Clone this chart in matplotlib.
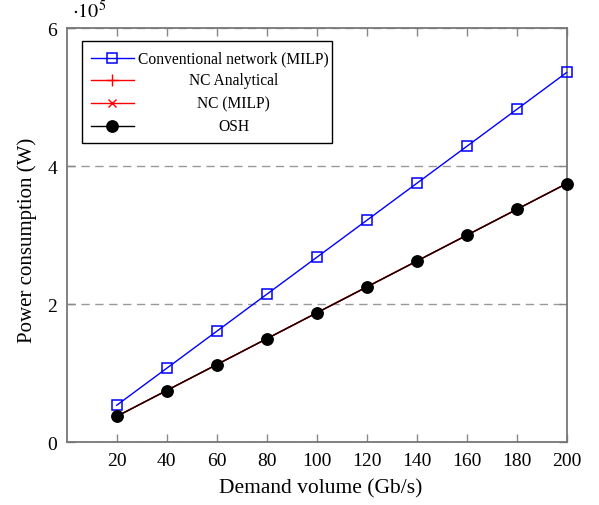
import matplotlib
matplotlib.use("Agg")
import matplotlib.pyplot as plt
from matplotlib.patches import Rectangle
from matplotlib.lines import Line2D

plt.rcParams['font.family'] = ['Liberation Serif', 'DejaVu Serif']
plt.rcParams['mathtext.fontset'] = 'stix'

demand = [20, 40, 60, 80, 100, 120, 140, 160, 180, 200]
conventional = [53600, 107200, 160800, 214400, 268000, 321600, 375200, 428800, 482400, 536000]
nc_analytical = [37500, 75000, 112500, 150000, 187500, 225000, 262500, 300000, 337500, 375000]
nc_milp = [37500, 75000, 112500, 150000, 187500, 225000, 262500, 300000, 337500, 375000]
osh = [37500, 75000, 112500, 150000, 187500, 225000, 262500, 300000, 337500, 375000]
labels = ['Conventional network (MILP)', 'NC Analytical', 'NC (MILP)', 'OSH']
yticks = [0, 200000, 400000, 600000]
ytick_labels = ['0', '2', '4', '6']

fig = plt.figure(figsize=(5.99, 5.06), dpi=100)
ax = fig.add_axes([0.1113, 0.124, 0.8347, 0.818])

styles = [
    dict(color='blue', marker='s', markersize=7.5, markerfacecolor='none', markeredgewidth=1.1, linewidth=1.0),
    dict(color='red', marker='+', markersize=9, markeredgewidth=1.0, linewidth=1.0),
    dict(color='red', marker='x', markersize=5.5, markeredgewidth=1.0, linewidth=1.0),
    dict(color='black', marker='o', markersize=8.2, linewidth=1.0),
]
series = [conventional, nc_analytical, nc_milp, osh]
for s, st in zip(series, styles):
    ax.plot(demand, s, clip_on=False, zorder=3, **st)

ax.set_xlim(0, 200)
ax.set_ylim(0, 600000)
ax.set_xticks(demand)
ax.set_yticks(yticks)
ax.set_yticklabels(ytick_labels)
ax.tick_params(direction='in', length=6, color='#888888', labelsize=14, width=1.0,
               top=True, right=True, pad=7)
for sp in ax.spines.values():
    sp.set_color('#777777')
    sp.set_linewidth(1.3)
ax.grid(axis='y', linestyle=(0, (6, 4)), color='#999999', linewidth=1.0)
ax.set_axisbelow(True)
ax.set_xlabel('Demand volume (Gb/s)', fontsize=15.5, labelpad=8)
ax.xaxis.set_label_coords(0.508, -0.086)
ax.set_ylabel('Power consumption (W)', fontsize=15, labelpad=8)
ax.yaxis.set_label_coords(-0.060, 0.49)
ax.text(0.01, 1.015, r'$\cdot 10^5$', transform=ax.transAxes, fontsize=14.5, ha='left', va='bottom')

# legend (pgfplots style, centred labels)
lx0, lx1, ly0, ly1 = 0.03, 0.53, 0.723, 0.9686
ax.add_patch(Rectangle((lx0, ly0), lx1 - lx0, ly1 - ly0, transform=ax.transAxes,
                       facecolor='white', edgecolor='black', linewidth=1.0, zorder=5))
rows = [0.9275, 0.875, 0.8188, 0.7639]
for lab, st, yy in zip(labels, styles, rows):
    ax.add_line(Line2D([0.048, 0.135], [yy, yy], transform=ax.transAxes, color=st['color'],
                       linewidth=1.0, zorder=6))
    mst = {k: v for k, v in st.items() if k not in ('color', 'linewidth')}
    ax.add_line(Line2D([0.0915], [yy], transform=ax.transAxes, color=st['color'],
                       linestyle='none', zorder=6, **mst))
    ax.text(0.3342, yy, lab, transform=ax.transAxes, ha='center', va='center',
            fontsize=11.2, zorder=7)

fig.savefig('out.png', dpi=100)
